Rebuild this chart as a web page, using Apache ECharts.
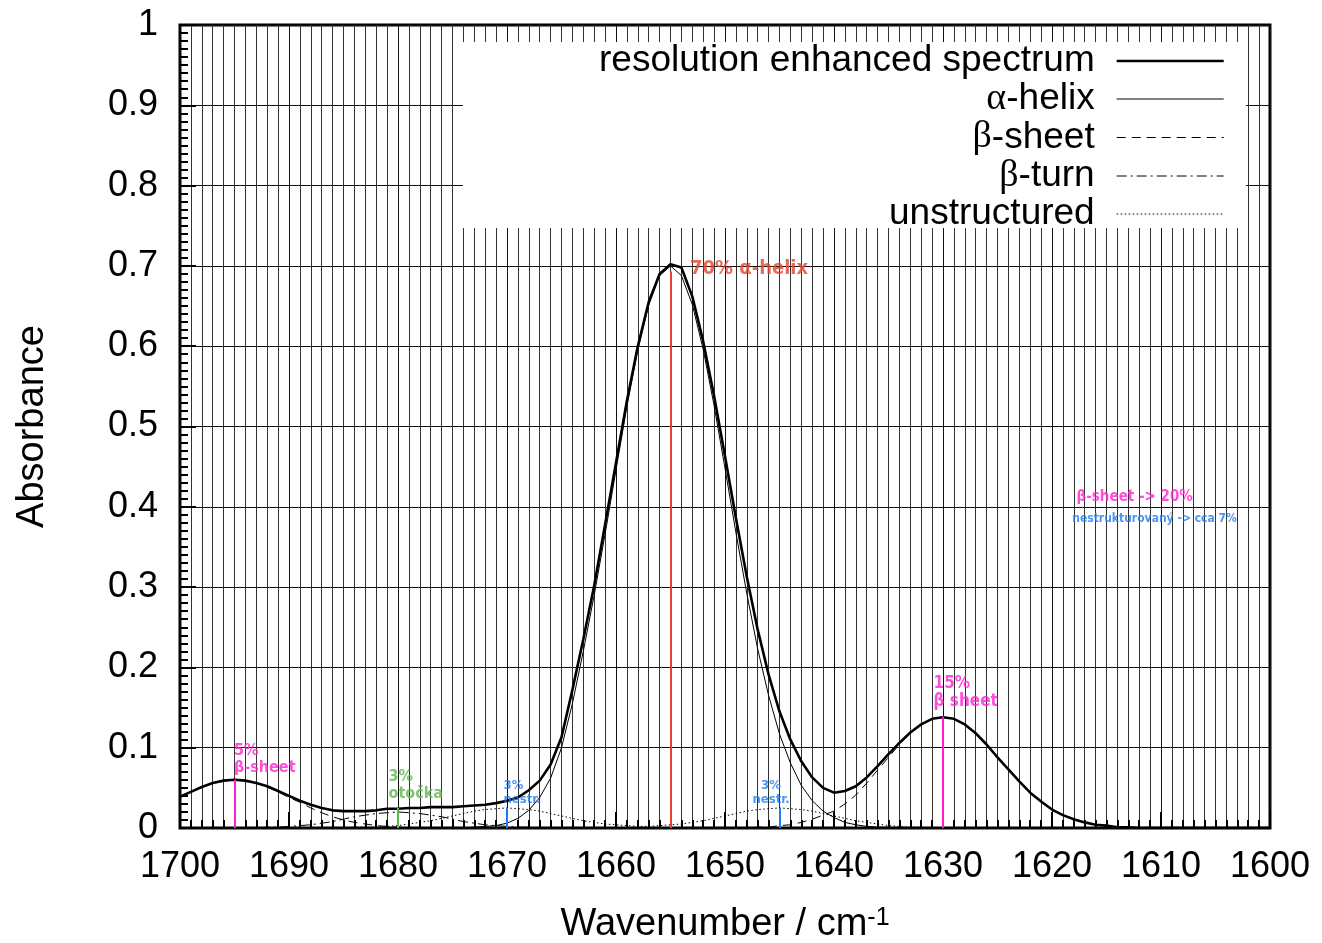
<!DOCTYPE html>
<html>
<head>
<meta charset="utf-8">
<title>Amide I band components</title>
<script src="https://cdn.jsdelivr.net/npm/echarts@6/dist/echarts.min.js"></script>
<style>
  html, body { margin: 0; padding: 0; background: #fff; }
  #chart { width: 1322px; height: 943px; }
</style>
</head>
<body>
<div id="chart"></div>
<script>
// x grid, cm-1 (one sample per wavenumber)
const wavenumber = [
  1700, 1699, 1698, 1697, 1696, 1695, 1694, 1693, 1692, 1691,
  1690, 1689, 1688, 1687, 1686, 1685, 1684, 1683, 1682, 1681,
  1680, 1679, 1678, 1677, 1676, 1675, 1674, 1673, 1672, 1671,
  1670, 1669, 1668, 1667, 1666, 1665, 1664, 1663, 1662, 1661,
  1660, 1659, 1658, 1657, 1656, 1655, 1654, 1653, 1652, 1651,
  1650, 1649, 1648, 1647, 1646, 1645, 1644, 1643, 1642, 1641,
  1640, 1639, 1638, 1637, 1636, 1635, 1634, 1633, 1632, 1631,
  1630, 1629, 1628, 1627, 1626, 1625, 1624, 1623, 1622, 1621,
  1620, 1619, 1618, 1617, 1616, 1615, 1614, 1613, 1612, 1611,
  1610, 1609, 1608, 1607, 1606, 1605, 1604, 1603, 1602, 1601,
  1600
]

const spectrum = [
  0.039, 0.045, 0.051, 0.056, 0.059, 0.060, 0.059, 0.056, 0.052, 0.046,
  0.040, 0.034, 0.029, 0.025, 0.022, 0.021, 0.021, 0.021, 0.022, 0.024,
  0.024, 0.025, 0.025, 0.026, 0.026, 0.026, 0.027, 0.028, 0.029, 0.031,
  0.034, 0.038, 0.047, 0.059, 0.079, 0.113, 0.172, 0.235, 0.302, 0.378,
  0.455, 0.532, 0.600, 0.655, 0.690, 0.702, 0.698, 0.662, 0.606, 0.538,
  0.463, 0.386, 0.313, 0.247, 0.191, 0.145, 0.110, 0.083, 0.063, 0.050,
  0.044, 0.046, 0.052, 0.063, 0.077, 0.092, 0.106, 0.119, 0.129, 0.136,
  0.138, 0.136, 0.129, 0.118, 0.104, 0.088, 0.073, 0.058, 0.044, 0.033,
  0.023, 0.016, 0.011, 0.007, 0.004, 0.003, 0.001, 0.001, 0, 0,
  0, 0, 0, 0, 0, 0, 0, 0, 0, 0,
  0
]

const alphaHelix = [
  0, 0, 0, 0, 0, 0, 0, 0, 0, 0,
  0, 0, 0, 0, 0, 0, 0, 0, 0, 0,
  0, 0, 0, 0, 0, 0, 0, 0.001, 0.002, 0.003,
  0.006, 0.012, 0.022, 0.038, 0.062, 0.100, 0.155, 0.220, 0.290, 0.366,
  0.446, 0.525, 0.595, 0.651, 0.688, 0.700, 0.688, 0.652, 0.596, 0.526,
  0.448, 0.368, 0.292, 0.223, 0.165, 0.117, 0.081, 0.053, 0.034, 0.021,
  0.013, 0.007, 0.004, 0.002, 0.001, 0.001, 0, 0, 0, 0,
  0, 0, 0, 0, 0, 0, 0, 0, 0, 0,
  0, 0, 0, 0, 0, 0, 0, 0, 0, 0,
  0, 0, 0, 0, 0, 0, 0, 0, 0, 0,
  0
]

const betaSheet = [
  0.038, 0.045, 0.051, 0.056, 0.059, 0.060, 0.059, 0.056, 0.051, 0.045,
  0.038, 0.032, 0.025, 0.019, 0.014, 0.010, 0.007, 0.005, 0.003, 0.002,
  0.001, 0.001, 0, 0, 0, 0, 0, 0, 0, 0,
  0, 0, 0, 0, 0, 0, 0, 0, 0, 0,
  0, 0, 0, 0, 0, 0, 0, 0, 0, 0,
  0, 0, 0, 0.001, 0.001, 0.003, 0.004, 0.007, 0.011, 0.016,
  0.021, 0.030, 0.041, 0.056, 0.072, 0.088, 0.104, 0.118, 0.129, 0.136,
  0.138, 0.136, 0.129, 0.118, 0.104, 0.088, 0.073, 0.058, 0.044, 0.033,
  0.023, 0.016, 0.011, 0.007, 0.004, 0.003, 0.001, 0.001, 0, 0,
  0, 0, 0, 0, 0, 0, 0, 0, 0, 0,
  0
]

const betaTurn = [
  0, 0, 0, 0, 0, 0, 0, 0, 0.001, 0.001,
  0.002, 0.003, 0.004, 0.006, 0.008, 0.011, 0.014, 0.016, 0.018, 0.019,
  0.020, 0.019, 0.018, 0.016, 0.014, 0.011, 0.008, 0.006, 0.004, 0.003,
  0.002, 0.001, 0.001, 0, 0, 0, 0, 0, 0, 0,
  0, 0, 0, 0, 0, 0, 0, 0, 0, 0,
  0, 0, 0, 0, 0, 0, 0, 0, 0, 0,
  0, 0, 0, 0, 0, 0, 0, 0, 0, 0,
  0, 0, 0, 0, 0, 0, 0, 0, 0, 0,
  0, 0, 0, 0, 0, 0, 0, 0, 0, 0,
  0, 0, 0, 0, 0, 0, 0, 0, 0, 0,
  0
]

const unstructured = [
  0, 0, 0, 0, 0, 0, 0, 0, 0, 0,
  0, 0, 0, 0, 0, 0, 0.001, 0.001, 0.001, 0.002,
  0.003, 0.005, 0.007, 0.009, 0.012, 0.015, 0.018, 0.021, 0.023, 0.024,
  0.025, 0.024, 0.023, 0.021, 0.018, 0.015, 0.012, 0.009, 0.007, 0.005,
  0.004, 0.003, 0.002, 0.002, 0.003, 0.004, 0.005, 0.007, 0.009, 0.012,
  0.015, 0.018, 0.021, 0.023, 0.024, 0.025, 0.024, 0.023, 0.021, 0.018,
  0.015, 0.012, 0.009, 0.007, 0.005, 0.003, 0.002, 0.001, 0.001, 0,
  0, 0, 0, 0, 0, 0, 0, 0, 0, 0,
  0, 0, 0, 0, 0, 0, 0, 0, 0, 0,
  0, 0, 0, 0, 0, 0, 0, 0, 0, 0,
  0
]

const seriesNames = ['resolution enhanced spectrum', 'α-helix', 'β-sheet', 'β-turn', 'unstructured']

// hand written notes on the print: band position, height of the marker stroke, text
const noteWave = [1695, 1680, 1670, 1655, 1645, 1630]
const noteTop = [0.060, 0.025, 0.025, 0.693, 0.025, 0.139]
const noteText = ['5%\nβ-sheet', '3%\notočka', '3%\nnestr.', '70% α-helix', '3%\nnestr.', '15%\nβ sheet']
const noteKind = ['sheet', 'turn', 'unstr', 'helix', 'unstr', 'sheet']
const sideText = ['β-sheet -> 20%', 'nestrukturovaný -> cca 7%']
const sideKind = ['sheet', 'unstr']
const sideWave = [1617.7, 1618.1]
const sideValue = [0.412, 0.384]

// styles
const FONT = "'Liberation Sans', Helvetica, Arial, sans-serif"
const HAND = "'DejaVu Sans Condensed', 'DejaVu Sans', sans-serif"
const ink = { sheet: '#ff1fd2', turn: '#5cb84a', unstr: '#1e7af0', helix: '#e5432f' }
const noteLabel = [
  { align: 'left', verticalAlign: 'bottom', offset: [0, -3], fontSize: 16 },
  { align: 'left', verticalAlign: 'bottom', offset: [-9, -5], fontSize: 16 },
  { align: 'left', verticalAlign: 'bottom', offset: [-3, -1], fontSize: 13 },
  { align: 'left', verticalAlign: 'middle', offset: [20, -2], fontSize: 20 },
  { align: 'center', verticalAlign: 'bottom', offset: [-8, -1], fontSize: 13 },
  { align: 'left', verticalAlign: 'bottom', offset: [-9, -5], fontSize: 17 }
]
const sideLabel = [
  { fontSize: 15 },
  { fontSize: 12 }
]

const pairs = arr => wavenumber.map((w, i) => [w, arr[i]])

function curve (name, values, width, type) {
  return {
    name: name,
    type: 'line',
    data: pairs(values),
    symbol: 'none',
    smooth: false,
    z: 2,
    itemStyle: { color: '#000' },
    lineStyle: { color: '#000', width: width, type: type }
  }
}

const notePoints = noteWave.map((w, i) => ({
  value: [w, noteTop[i]],
  label: Object.assign({
    show: true,
    position: [0, 0],
    formatter: noteText[i],
    color: ink[noteKind[i]],
    fontFamily: HAND,
    fontWeight: 'bold',
    lineHeight: noteLabel[i].fontSize + 1
  }, noteLabel[i])
})).concat(sideText.map((t, i) => ({
  value: [sideWave[i], sideValue[i]],
  label: Object.assign({
    show: true,
    position: [0, 0],
    formatter: t,
    align: 'left',
    verticalAlign: 'middle',
    color: ink[sideKind[i]],
    fontFamily: HAND,
    fontWeight: 'bold'
  }, sideLabel[i])
})))

const markerLines = noteWave.map((w, i) => [
  { coord: [w, 0], lineStyle: { color: ink[noteKind[i]], width: 2, type: 'solid' } },
  { coord: [w, noteTop[i]] }
])

const chart = echarts.init(document.getElementById('chart'))

const option = {
  animation: false,
  backgroundColor: '#fff',
  grid: {
    left: 180,
    right: 52,
    top: 25,
    bottom: 115,
    show: true,
    borderColor: '#000',
    borderWidth: 3,
    backgroundColor: 'transparent',
    containLabel: false,
    outerBoundsMode: 'none'
  },
  graphic: [
    // white box behind the key
    { type: 'rect', z: 3, silent: true, shape: { x: 463, y: 42, width: 783, height: 186 }, style: { fill: '#fff' } }
  ],
  legend: {
    data: seriesNames,
    orient: 'vertical',
    align: 'right',
    right: 97,
    top: 42.5,
    padding: 0,
    itemGap: 0.5,
    itemWidth: 107,
    itemHeight: 14,
    selectedMode: false,
    itemStyle: { opacity: 0 },
    lineStyle: { width: 'inherit' },
    formatter: name => name.replace(/^([αβ])/, '{g|$1}'),
    textStyle: {
      fontFamily: FONT,
      fontSize: 37,
      lineHeight: 37,
      color: '#000',
      padding: [0, 17, 0, 0],
      rich: {
        g: { fontFamily: "'Liberation Serif', 'DejaVu Serif', serif", fontSize: 38, lineHeight: 37, color: '#000' }
      }
    }
  },
  xAxis: {
    type: 'value',
    min: 1600,
    max: 1700,
    interval: 10,
    inverse: true,
    name: 'Wavenumber / cm{sup|-1}',
    nameLocation: 'middle',
    nameGap: 78,
    nameTextStyle: {
      fontFamily: FONT,
      fontSize: 38,
      color: '#000',
      rich: {
        sup: { fontFamily: FONT, fontSize: 25, verticalAlign: 'top', color: '#000' }
      }
    },
    axisLine: { show: false },
    axisTick: { inside: true, length: 16, lineStyle: { color: '#000', width: 2 } },
    minorTick: { show: true, splitNumber: 10, length: 8, lineStyle: { color: '#000', width: 2 } },
    splitLine: { show: true, lineStyle: { color: '#111', width: 1 } },
    minorSplitLine: { show: true, lineStyle: { color: '#333', width: 1 } },
    axisLabel: { fontFamily: FONT, fontSize: 36, color: '#000', margin: 21, formatter: v => String(v) }
  },
  yAxis: {
    type: 'value',
    min: 0,
    max: 1,
    interval: 0.1,
    name: 'Absorbance',
    nameLocation: 'middle',
    nameGap: 128,
    nameTextStyle: { fontFamily: FONT, fontSize: 38, color: '#000' },
    axisLine: { show: false },
    axisTick: { inside: true, length: 16, lineStyle: { color: '#000', width: 2 } },
    minorTick: { show: true, splitNumber: 10, length: 8, lineStyle: { color: '#000', width: 2 } },
    splitLine: { show: true, lineStyle: { color: '#111', width: 1 } },
    axisLabel: { fontFamily: FONT, fontSize: 36, color: '#000', margin: 22 }
  },
  series: [
    curve(seriesNames[4], unstructured, 1, [1.5, 2.5]),
    curve(seriesNames[3], betaTurn, 1, [10, 4, 2, 4]),
    curve(seriesNames[2], betaSheet, 1, [9, 6]),
    curve(seriesNames[1], alphaHelix, 1, 'solid'),
    curve(seriesNames[0], spectrum, 2.6, 'solid'),
    {
      name: 'notes',
      type: 'scatter',
      symbolSize: 1,
      itemStyle: { color: 'rgba(0,0,0,0)' },
      z: 5,
      data: notePoints,
      markLine: {
        silent: true,
        symbol: 'none',
        label: { show: false },
        data: markerLines
      }
    }
  ]
}

chart.setOption(option)
</script>
</body>
</html>
